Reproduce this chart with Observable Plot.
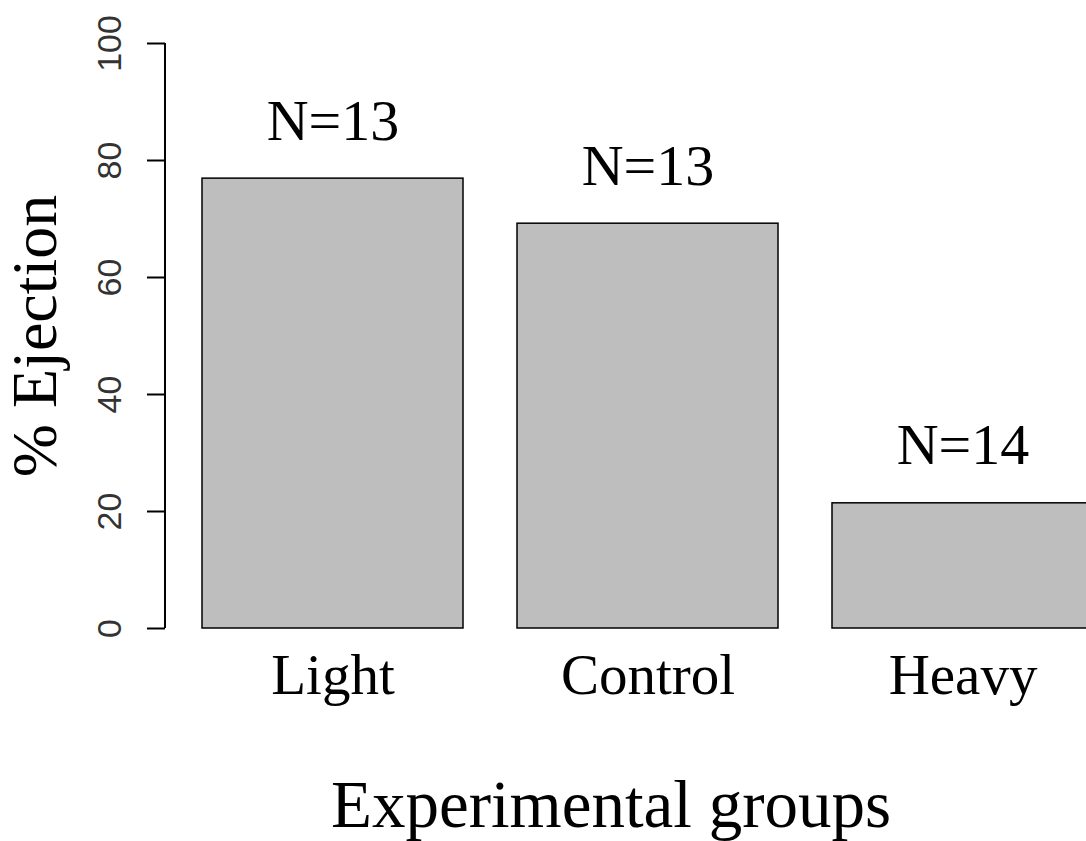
<!DOCTYPE html>
<html><head><meta charset="utf-8">
<script src="https://cdn.jsdelivr.net/npm/d3@7"></script>
<script src="https://cdn.jsdelivr.net/npm/@observablehq/plot@0.6"></script>
<style>html,body{margin:0;padding:0;background:#fff;overflow:hidden}</style>
</head><body><div id="chart"></div>
<script>
const groups = ["Light", "Control", "Heavy"];
const ejection = [76.9, 69.2, 21.4];
const sampleLabels = ["N=13", "N=13", "N=14"];
const yTicks = [0, 20, 40, 60, 80, 100];
const yTitle = "% Ejection";
const xTitle = "Experimental groups";

const data = groups.map((g, i) => ({group: g, value: ejection[i], n: sampleLabels[i]}));

const serif = "'Liberation Serif', 'DejaVu Serif', serif";
const sans = "'Liberation Sans', Arial, sans-serif";

const yAxisLine = (index, scales, values, dims) => {
  return d3.create("svg:line")
    .attr("x1", dims.marginLeft).attr("x2", dims.marginLeft)
    .attr("y1", scales.y(yTicks[0])).attr("y2", scales.y(yTicks[yTicks.length - 1]))
    .attr("stroke", "black").attr("stroke-width", 2)
    .node();
};

const chart = Plot.plot({
  width: 1086,
  height: 841,
  marginTop: 43,
  marginBottom: 213,
  marginLeft: 165,
  marginRight: 0,
  style: {overflow: "hidden", background: "white"},
  x: {type: "band", domain: groups, range: [165, 1130], paddingInner: 0.171, paddingOuter: 0.117, axis: null},
  y: {domain: [0, 100], axis: null},
  marks: [
    Plot.barY(data, {x: "group", y: "value", fill: "#bebebe", stroke: "black", strokeWidth: 1.5}),
    Plot.text(data, {x: "group", y: "value", text: "n", dy: -39, lineAnchor: "bottom", fontSize: 58, fontFamily: serif, fill: "black"}),
    Plot.axisX({tickSize: 0, tickPadding: 25, fontSize: 57, fontFamily: serif, label: null, fill: "black"}),
    Plot.axisY({ticks: yTicks, tickSize: 18, tickRotate: -90, tickPadding: 27, fontSize: 34, fontFamily: sans, label: null, strokeWidth: 2, fill: "#333"}),
    yAxisLine,
    Plot.text([yTitle], {frameAnchor: "left", dx: -110, rotate: -90, textAnchor: "middle", lineAnchor: "bottom", fontSize: 64, fontFamily: serif, fill: "black"}),
    Plot.text([xTitle], {frameAnchor: "bottom", dx: -15, dy: 198, lineAnchor: "bottom", fontSize: 67, fontFamily: serif, fill: "black"})
  ]
});
document.getElementById("chart").append(chart);
</script>
</body></html>
